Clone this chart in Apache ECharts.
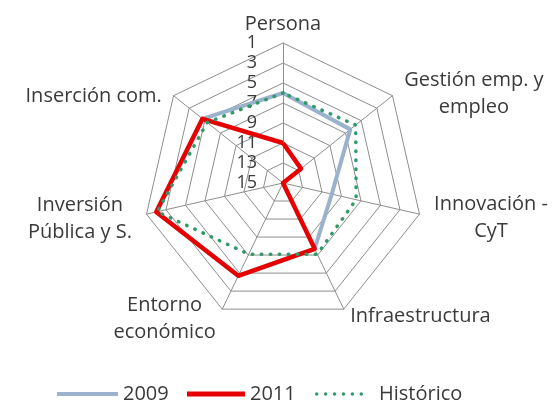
<!DOCTYPE html>
<html>
<head>
<meta charset="utf-8">
<script src="https://cdn.jsdelivr.net/npm/echarts@6/dist/echarts.min.js"></script>
<style>
html,body{margin:0;padding:0;background:#ffffff;}
#chart{width:553px;height:401px;}
</style>
</head>
<body>
<div id="chart"></div>
<script>
// Indicators in ECharts drawing order (top, then counter-clockwise)
const categories = ['Persona', 'Inserción com.', 'Inversión\nPública y S.', 'Entorno\neconómico', 'Infraestructura', 'Innovación -\nCyT', 'Gestión emp. y\nempleo'];
// Rank scale: 1 at the outer ring, 15 at the centre
const rankTicks = [1, 3, 5, 7, 9, 11, 13, 15];
const seriesNames = ['2009', '2011', 'Histórico'];
const values2009 = [6, 4.7, 2, 4.7, 7.7, 10, 6.4];
const values2011 = [11, 4.7, 2, 4.7, 7.7, 15, 12.7];
const valuesHist = [6, 5.3, 2.1, 7.1, 7.1, 7.5, 5.7];

const rankMin = rankTicks[0];
const rankMax = rankTicks[rankTicks.length - 1];
const toAxis = arr => arr.map(v => -v);   // inverted radial axis

const FONT = 'Open Sans';
const TXT = '#3a3a3a';
const GRID = '#8e8e8e';
const C2009 = '#9bb2cd';
const C2011 = '#e60000';
const CHIST = '#2e9a68';

function dotsPath(n, r, step) {
  let d = '';
  for (let i = 0; i < n; i++) {
    const cx = r + i * step;
    d += 'M' + (cx - r) + ',' + r + 'a' + r + ',' + r + ' 0 1,0 ' + (2 * r) + ',0' + 'a' + r + ',' + r + ' 0 1,0 ' + (-2 * r) + ',0';
  }
  return 'path://' + d;
}

// per-indicator vertical nudges via rich padding [top, right, bottom, left]
const namePad = [[20,0,0,0],[20,0,0,0],[3,0,0,0],[0,0,7,0],[0,0,12,0],[0,0,0,0],[14,0,0,0]];
const rich = {};
namePad.forEach((p, i) => {
  rich['n' + i] = {align: 'center', padding: p, fontSize: 20, fontFamily: FONT, color: TXT, lineHeight: 27};
});

const chart = echarts.init(document.getElementById('chart'));
const legendText = {fontSize: 20, color: TXT, fontFamily: FONT};
const option = {
  animation: false,
  backgroundColor: '#ffffff',
  legend: [
    {data: [{name: seriesNames[0], icon: 'path://M0,0H60V4H0Z'}], left: 52, top: 379, itemWidth: 61, itemHeight: 22, textStyle: legendText, selectedMode: false},
    {data: [{name: seriesNames[1], icon: 'path://M0,0H60V5H0Z'}], left: 182, top: 379, itemWidth: 58, itemHeight: 22, textStyle: legendText, selectedMode: false},
    {data: [{name: seriesNames[2], icon: dotsPath(6, 1.75, 9)}], left: 310, top: 379, itemWidth: 48, itemHeight: 22,
      formatter: n => '{p|' + n + '}',
      textStyle: {fontSize: 20, color: TXT, fontFamily: FONT, rich: {p: {fontSize: 20, color: TXT, fontFamily: FONT, padding: [0, 0, 0, 11]}}},
      selectedMode: false}
  ],
  radar: {
    center: [283, 183],
    radius: 140,
    startAngle: 90,
    shape: 'polygon',
    splitNumber: rankTicks.length - 1,
    nameGap: 15,
    indicator: categories.map((name, i) => {
      const ind = {name: name, min: -rankMax, max: -rankMin};
      if (i === 0) {
        ind.axisLabel = {show: true, formatter: v => String(Math.abs(v)), fontSize: 18, fontFamily: FONT, color: TXT, margin: 26};
      }
      return ind;
    }),
    axisName: {
      color: TXT,
      fontSize: 20,
      fontFamily: FONT,
      lineHeight: 27,
      formatter: function (value) {
        const idx = categories.indexOf(value);
        return value.split('\n').map(l => '{n' + idx + '|' + l + '}').join('\n');
      },
      rich: rich
    },
    axisLabel: {show: false},
    axisTick: {show: false},
    axisLine: {lineStyle: {color: GRID, width: 1}},
    splitLine: {lineStyle: {color: GRID, width: 1}},
    splitArea: {show: false}
  },
  series: [{
    type: 'radar',
    symbol: 'none',
    data: [
      {name: seriesNames[0], value: toAxis(values2009), lineStyle: {color: C2009, width: 4}, itemStyle: {color: C2009}},
      {name: seriesNames[1], value: toAxis(values2011), lineStyle: {color: C2011, width: 4.5}, itemStyle: {color: C2011}},
      {name: seriesNames[2], value: toAxis(valuesHist), lineStyle: {color: CHIST, width: 3.5, type: [0.5, 8.5], cap: 'round'}, itemStyle: {color: CHIST}}
    ]
  }]
};
chart.setOption(option);
</script>
</body>
</html>
